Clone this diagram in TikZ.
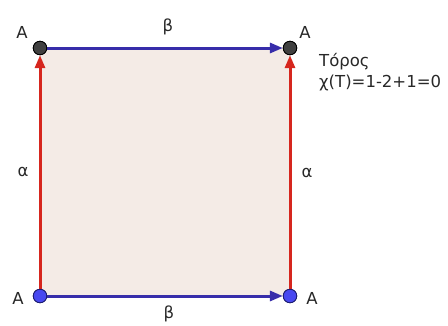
\documentclass[tikz,border=0pt]{standalone}
\usepackage{fontspec}
\setmainfont{DejaVu Sans}
\usetikzlibrary{arrows.meta}
\definecolor{fillbg}{RGB}{244,235,230}
\definecolor{redv}{RGB}{214,38,30}
\definecolor{bluev}{RGB}{55,45,170}
\definecolor{dotgray}{RGB}{64,64,64}
\definecolor{dotblue}{RGB}{72,72,240}
\definecolor{dotblueedge}{RGB}{30,30,110}
\definecolor{txt}{RGB}{40,40,40}
\tikzset{
  vert/.style={circle,inner sep=0pt,minimum size=13.5pt,line width=0.8pt},
  topdot/.style={vert,fill=dotgray,draw=black},
  botdot/.style={vert,fill=dotblue,draw=dotblueedge},
  redvec/.style={draw=redv,line width=3pt,-{Triangle[length=13pt,width=10pt]}},
  bluevec/.style={draw=bluev,line width=3pt,-{Triangle[length=13pt,width=10pt]}},
  lbl/.style={text=txt,font=\fontsize{16.5}{20}\selectfont,inner sep=0pt},
}
\begin{document}
\begin{tikzpicture}[x=1pt,y=-1pt]
\useasboundingbox (0,0) rectangle (448,325);
\fill[fillbg] (40,48) rectangle (290,296);
\node[topdot] (tl) at (40,48) {};
\node[topdot] (tr) at (290,48) {};
\node[botdot] (bl) at (40,296) {};
\node[botdot] (br) at (290,296) {};
\draw[redvec] (bl) -- (tl);
\draw[redvec] (br) -- (tr);
\draw[bluevec] (tl) -- (tr);
\draw[bluevec] (bl) -- (br);
\node[topdot] at (tl) {};
\node[topdot] at (tr) {};
\node[botdot] at (bl) {};
\node[botdot] at (br) {};
\node[lbl] (atl) at (22,32) {A};
\node[lbl] (atr) at (305,32) {A};
\node[lbl] (abl) at (18,298) {A};
\node[lbl] (abr) at (312,298) {A};
\node[lbl] (btop) at (168,27) {β};
\node[lbl] (bbot) at (169,314) {β};
\node[lbl] (al) at (23,172) {α};
\node[lbl] (ar) at (307,173) {α};
\node[lbl,anchor=base west] (tor) at (319,66) {Τόρος};
\node[lbl,anchor=base west] (chi) at (319,87) {χ(T)=1-2+1=0};
\end{tikzpicture}
\end{document}
